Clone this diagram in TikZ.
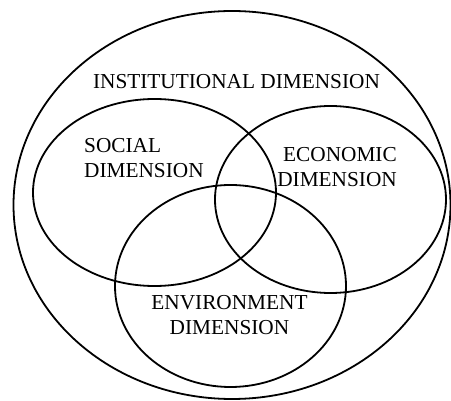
\documentclass[tikz,border=0pt]{standalone}
\usepackage{fontspec}
\setmainfont{Liberation Serif}
\usetikzlibrary{shapes.geometric}

\begin{document}
\begin{tikzpicture}[x=1pt, y=-1pt,
        ring/.style={ellipse, draw, line width=1.8pt, inner sep=0pt},
        dimtext/.style={inner sep=0pt, font=\fontsize{21.3}{25.5}\selectfont}]
        \useasboundingbox (0,0) rectangle (451,401);
        % outer ring and the three dimensions
        \node[ring, minimum width=437pt, minimum height=388pt] (institutional) at (232,205) {};
        \node[ring, minimum width=243pt, minimum height=187pt] (social) at (154.5,192.5) {};
        \node[ring, minimum width=231pt, minimum height=187pt] (economic) at (330.5,199.5) {};
        \node[ring, minimum width=231pt, minimum height=202pt] (environment) at (230.5,286) {};
        % labels
        \node[dimtext, anchor=north] (institutionaltext) at (236.5,74) {INSTITUTIONAL DIMENSION};
        \node[dimtext, anchor=north west, align=left] (socialtext) at (84,138) {SOCIAL\\DIMENSION};
        \node[dimtext, anchor=north east, align=right] (economictext) at (397,147) {ECONOMIC\\DIMENSION};
        \node[dimtext, anchor=north, align=center] (environmenttext) at (229.5,295) {ENVIRONMENT\\DIMENSION};
    \end{tikzpicture}
\end{document}
